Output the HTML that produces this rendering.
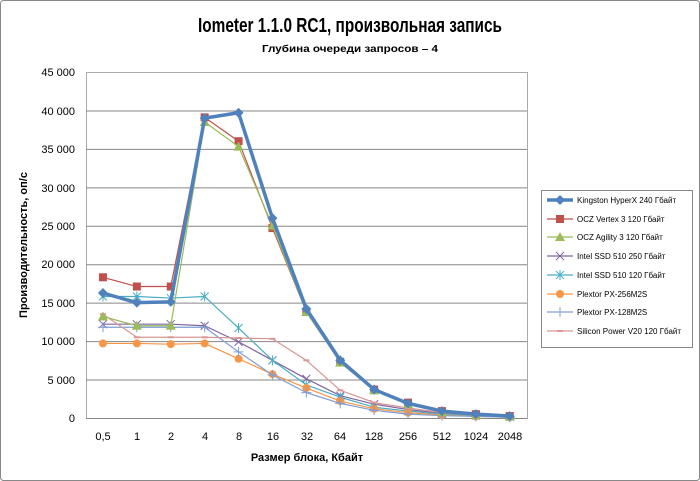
<!DOCTYPE html>
<html><head><meta charset="utf-8"><style>
body{margin:0;background:#fff}
svg{display:block;font-family:"Liberation Sans","DejaVu Sans",sans-serif}
</style></head><body>
<svg id="s" width="700" height="481" viewBox="0 0 700 481" xmlns="http://www.w3.org/2000/svg">
<rect x="0.5" y="0.5" width="699" height="480" fill="#fff" stroke="#888" rx="3"/>
<text x="350" y="32" text-anchor="middle" font-size="20" font-weight="bold" fill="#000" textLength="304" lengthAdjust="spacingAndGlyphs">Iometer 1.1.0 RC1, произвольная запись</text>
<text x="350" y="52" text-anchor="middle" font-size="10.5" font-weight="bold" fill="#000" textLength="176" lengthAdjust="spacingAndGlyphs">Глубина очереди запросов – 4</text>
<rect x="86.5" y="72.5" width="441" height="346" fill="#fff" stroke="#aaa"/>
<g id="grid" stroke="#868686" stroke-width="1"></g>
<g font-size="11" fill="#000" text-anchor="end">
<text x="75" y="76">45 000</text><text x="75" y="115">40 000</text><text x="75" y="153">35 000</text><text x="75" y="192">30 000</text><text x="75" y="230">25 000</text><text x="75" y="268">20 000</text><text x="75" y="307">15 000</text><text x="75" y="345">10 000</text><text x="75" y="384">5 000</text><text x="75" y="422">0</text>
</g>
<g font-size="11" fill="#000" text-anchor="middle">
<text x="103" y="440">0,5</text><text x="137" y="440">1</text><text x="171" y="440">2</text><text x="205" y="440">4</text><text x="239" y="440">8</text><text x="273" y="440">16</text><text x="307" y="440">32</text><text x="340" y="440">64</text><text x="374" y="440">128</text><text x="408" y="440">256</text><text x="442" y="440">512</text><text x="476" y="440">1024</text><text x="510" y="440">2048</text>
</g>
<text x="307" y="461" text-anchor="middle" font-size="11" font-weight="bold">Размер блока, Кбайт</text>
<text transform="translate(27,245) rotate(-90)" text-anchor="middle" font-size="11" font-weight="bold">Производительность,  оп/с</text>
<g id="series"></g>
<rect x="541.5" y="190.5" width="151" height="157" fill="#fff" stroke="#888"/>
<g id="leg"></g>
<g font-size="8" fill="#000">
<text x="577" y="203">Kingston HyperX  240 Гбайт</text>
<text x="577" y="222">OCZ Vertex  3 120 Гбайт</text>
<text x="577" y="240">OCZ Agility  3 120 Гбайт</text>
<text x="577" y="259">Intel  SSD 510 250 Гбайт</text>
<text x="577" y="278">Intel  SSD 510 120 Гбайт</text>
<text x="577" y="297">Plextor PX-256M2S</text>
<text x="577" y="315">Plextor PX-128M2S</text>
<text x="577" y="334">Silicon Power  V20 120 Гбайт</text>
</g>
</svg>
<script>
var NS="http://www.w3.org/2000/svg";
function el(t,a,p){var e=document.createElementNS(NS,t);for(var k in a)e.setAttribute(k,a[k]);p.appendChild(e);return e;}
var g=document.getElementById('grid');
for(var i=1;i<9;i++){var y=418-i*346/9;el('line',{x1:86,x2:527,y1:y+0.5,y2:y+0.5},g);}
el('line',{x1:86,x2:527,y1:418.5,y2:418.5},g);
function X(i){return 86+33.9*(i+0.5);}
function Y(v){return 418-v*346/45000;}
var S=[
["#8064a2",1.2,"x",[12200,12200,12200,12000,9900,7500,5100,2900,1800,1100,600,400,200]],
["#4bacc6",1.2,"*",[15800,15800,15600,15800,11700,7500,4300,2700,1400,900,500,300,150]],
["#f79646",1.2,"o",[9700,9700,9600,9700,7700,5700,3900,2200,1200,700,400,200,100]],
["#7f9fd5",1.2,"+",[11800,11800,11800,11800,8600,5600,3300,1900,1000,500,300,200,100]],
["#d99694",1.2,"-",[13500,10500,10500,10500,10400,10300,7500,3600,2000,1300,700,400,200]],
["#c0504d",1.2,"s",[18300,17100,17100,39100,36000,24700,13800,7300,3700,2000,900,500,250]],
["#9bbb59",1.2,"t",[13200,12000,12000,38500,35300,25000,13800,7200,3600,1800,800,400,200]],
["#4f81bd",3.5,"d",[16250,15000,15100,39000,39700,26000,14200,7500,3700,1900,900,500,250]]
];
var sg=document.getElementById('series');
function mark(m,x,y,c,p){
 if(m=="s")el('rect',{x:x-4,y:y-4,width:8,height:8,fill:c},p);
 else if(m=="t")el('polygon',{points:(x)+","+(y-5)+" "+(x-5)+","+(y+4)+" "+(x+5)+","+(y+4),fill:c},p);
 else if(m=="d")el('polygon',{points:x+","+(y-5)+" "+(x+5)+","+y+" "+x+","+(y+5)+" "+(x-5)+","+y,fill:c},p);
 else if(m=="o")el('circle',{cx:x,cy:y,r:4,fill:c},p);
 else if(m=="x")el('path',{d:"M"+(x-4)+" "+(y-4)+"L"+(x+4)+" "+(y+4)+"M"+(x-4)+" "+(y+4)+"L"+(x+4)+" "+(y-4),stroke:c,'stroke-width':1},p);
 else if(m=="*")el('path',{d:"M"+(x-4)+" "+(y-4)+"L"+(x+4)+" "+(y+4)+"M"+(x-4)+" "+(y+4)+"L"+(x+4)+" "+(y-4)+"M"+x+" "+(y-5)+"L"+x+" "+(y+5),stroke:c,'stroke-width':1},p);
 else if(m=="+")el('path',{d:"M"+(x-5)+" "+y+"L"+(x+5)+" "+y+"M"+x+" "+(y-5)+"L"+x+" "+(y+5),stroke:c,'stroke-width':1},p);
 else if(m=="-")el('rect',{x:x-3,y:y-1,width:6,height:2,fill:c},p);
}
S.forEach(function(s){
 var pts=s[3].map(function(v,i){return X(i)+","+Y(v)}).join(" ");
 el('polyline',{points:pts,fill:"none",stroke:s[0],'stroke-width':s[1],'stroke-linejoin':'round'},sg);
 s[3].forEach(function(v,i){mark(s[2],X(i),Y(v),s[0],sg);});
});
var order=[7,5,6,0,1,2,3,4],ly=[200,219,237,256,275,294,312,331],lg=document.getElementById('leg');
order.forEach(function(k,j){var s=S[k];el('line',{x1:547,x2:573,y1:ly[j],y2:ly[j],stroke:s[0],'stroke-width':s[1]},lg);mark(s[2],560,ly[j],s[0],lg);});
</script>
</body></html>
